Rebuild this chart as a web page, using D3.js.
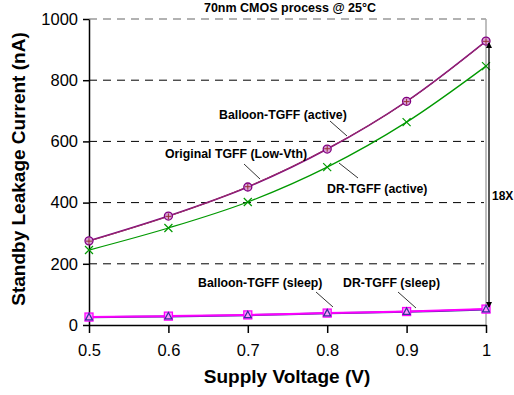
<!DOCTYPE html>
<html>
<head>
<meta charset="utf-8">
<script src="https://cdn.jsdelivr.net/npm/d3@7"></script>
<style>
body { margin: 0; background: #fff; }
text { font-family: "Liberation Sans", Arial, sans-serif; }
</style>
</head>
<body>
<svg id="chart" width="514" height="395"></svg>
<script>
// values
var voltages = [0.5, 0.6, 0.7, 0.8, 0.9, 1.0];
var originalTGFF = [275, 356, 451, 575, 731, 928];
var balloonActive = [274, 355, 452, 576, 730, 927];
var drActive = [245, 317, 402, 516, 663, 846];
var balloonSleep = [26, 29, 33, 39, 44, 52];
var drSleep = [25, 28, 32, 38, 43, 51];
var yTicks = [0, 200, 400, 600, 800, 1000];
var xTicks = [0.5, 0.6, 0.7, 0.8, 0.9, 1.0];

var FONT = "'Liberation Sans', Arial, sans-serif";
var svg = d3.select("#chart");
var plotL = 89, plotR = 486, plotT = 19, plotB = 325;

var x = d3.scaleLinear().domain([0.5, 1.0]).range([plotL, plotR]);
var y = d3.scaleLinear().domain([0, 1000]).range([plotB, plotT]);

// grid lines
svg.append("g").selectAll("line")
    .data(yTicks.filter(function(d) { return d > 0 && d < 1000; }))
    .enter().append("line")
    .attr("x1", plotL).attr("x2", plotR - 2)
    .attr("y1", function(d) { return y(d); })
    .attr("y2", function(d) { return y(d); })
    .style("stroke", "#000")
    .style("stroke-width", 1)
    .style("stroke-dasharray", "8,6");

// plot frame top / right (gray)
svg.append("line")
    .attr("x1", plotL).attr("x2", plotR).attr("y1", y(1000)).attr("y2", y(1000))
    .style("stroke", "#999").style("stroke-width", 1.5).style("stroke-dasharray", "8,6");
svg.append("line")
    .attr("x1", plotR).attr("x2", plotR).attr("y1", y(1000)).attr("y2", plotB)
    .style("stroke", "#aaa").style("stroke-width", 1.5);

// axes
var xAxis = d3.axisBottom(x).tickValues(xTicks).tickSize(8).tickSizeOuter(0)
    .tickFormat(function(d) { return d === 1 ? "1" : d3.format(".1f")(d); });
var gx = svg.append("g").attr("transform", "translate(0," + plotB + ")").call(xAxis);
gx.select(".domain").style("stroke-width", 1.5);
gx.selectAll("line").style("stroke-width", 1.5);
gx.selectAll("text").attr("dy", "1.2em").style("font-size", "16.5px").style("font-family", FONT);

var yAxis = d3.axisLeft(y).tickValues(yTicks).tickSize(6).tickSizeOuter(0)
    .tickFormat(d3.format("d"));
var gy = svg.append("g").attr("transform", "translate(" + plotL + ",0)").call(yAxis);
gy.select(".domain").style("stroke-width", 1.5);
gy.selectAll("line").style("stroke-width", 1.5);
gy.selectAll("text").attr("x", -11).style("font-size", "16.5px").style("font-family", FONT);

// series
var line = d3.line()
    .x(function(d, i) { return x(voltages[i]); })
    .y(function(d) { return y(d); })
    .curve(d3.curveCatmullRom.alpha(0.5));

function drawLine(vals, color, width) {
    svg.append("path").datum(vals)
        .attr("d", line)
        .style("fill", "none")
        .style("stroke", color)
        .style("stroke-width", width);
}

drawLine(drActive, "#009900", 1.3);
drawLine(originalTGFF, "#800080", 1.6);
drawLine(balloonActive, "#993366", 1);
drawLine(drSleep, "#333399", 2);
drawLine(balloonSleep, "#ff00ff", 2);

// markers
var mk = svg.append("g");
voltages.forEach(function(v, i) {
    // green x
    var gxp = x(v), gyp = y(drActive[i]);
    mk.append("path")
        .attr("d", "M" + (gxp - 4) + "," + (gyp - 4) + "L" + (gxp + 4) + "," + (gyp + 4) +
                   "M" + (gxp - 4) + "," + (gyp + 4) + "L" + (gxp + 4) + "," + (gyp - 4))
        .style("stroke", "#009900").style("stroke-width", 1.2);
    // purple circle
    mk.append("circle")
        .attr("cx", x(v)).attr("cy", y(originalTGFF[i])).attr("r", 4)
        .style("fill", "#d9a0d9").style("stroke", "#800080").style("stroke-width", 1.3);
    // balloon active +
    var bx = x(v), by = y(balloonActive[i]);
    mk.append("path")
        .attr("d", "M" + (bx - 3) + "," + by + "L" + (bx + 3) + "," + by +
                   "M" + bx + "," + (by - 3) + "L" + bx + "," + (by + 3))
        .style("stroke", "#993333").style("stroke-width", 1);
    // balloon sleep square
    mk.append("rect")
        .attr("x", x(v) - 4).attr("y", y(balloonSleep[i]) - 4)
        .attr("width", 8).attr("height", 8)
        .style("fill", "#ff99ff").style("stroke", "#ff00ff").style("stroke-width", 1.3);
    // dr sleep triangle
    var tx = x(v), ty = y(drSleep[i]);
    mk.append("path")
        .attr("d", "M" + tx + "," + (ty - 4) + "L" + (tx + 3.5) + "," + (ty + 2.5) + "L" + (tx - 3.5) + "," + (ty + 2.5) + "Z")
        .style("fill", "none").style("stroke", "#333399").style("stroke-width", 1.2);
});

// axis titles
svg.append("text")
    .attr("x", 287).attr("y", 383)
    .attr("text-anchor", "middle")
    .style("font-size", "19px").style("font-weight", "bold")
    .text("Supply Voltage (V)");
svg.append("text")
    .attr("transform", "translate(25,169) rotate(-90)")
    .attr("text-anchor", "middle")
    .style("font-size", "19px").style("font-weight", "bold")
    .text("Standby Leakage Current (nA)");

svg.append("text")
    .attr("x", 290).attr("y", 12)
    .attr("text-anchor", "middle")
    .style("font-size", "12.5px").style("font-weight", "bold")
    .text("70nm CMOS process @ 25°C");

// annotations
var notes = [
    { t: "Balloon-TGFF (active)", tx: 219, ty: 119, lx1: 330, ly1: 121, lx2: 347, ly2: 136 },
    { t: "Original TGFF (Low-Vth)", tx: 165, ty: 158, lx1: 244, ly1: 164, lx2: 260, ly2: 179 },
    { t: "DR-TGFF (active)", tx: 327, ty: 193, lx1: 339, ly1: 163, lx2: 358, ly2: 178 },
    { t: "Balloon-TGFF (sleep)", tx: 198, ty: 287, lx1: 316, ly1: 292, lx2: 333, ly2: 307 },
    { t: "DR-TGFF (sleep)", tx: 343, ty: 287, lx1: 398, ly1: 292, lx2: 416, ly2: 308 }
];
notes.forEach(function(n) {
    svg.append("text").attr("x", n.tx).attr("y", n.ty)
        .style("font-size", "12.3px").style("font-weight", "bold").text(n.t);
    svg.append("line")
        .attr("x1", n.lx1).attr("y1", n.ly1).attr("x2", n.lx2).attr("y2", n.ly2)
        .style("stroke", "#000").style("stroke-width", 0.8);
});

// 18X double arrow
var ax = 489;
svg.append("line")
    .attr("x1", ax).attr("x2", ax).attr("y1", y(928) + 2).attr("y2", y(52) - 2)
    .style("stroke", "#000").style("stroke-width", 1.3);
svg.append("path")
    .attr("d", "M" + (ax - 3) + "," + (y(928) + 7) + "L" + ax + "," + (y(928) + 1) + "L" + (ax + 3) + "," + (y(928) + 7) + "Z")
    .style("fill", "#000");
svg.append("path")
    .attr("d", "M" + (ax - 3) + "," + (y(52) - 7) + "L" + ax + "," + (y(52) - 1) + "L" + (ax + 3) + "," + (y(52) - 7) + "Z")
    .style("fill", "#000");
svg.append("text").attr("x", 492).attr("y", 200)
    .style("font-size", "12px").style("font-weight", "bold").text("18X");
</script>
</body>
</html>
